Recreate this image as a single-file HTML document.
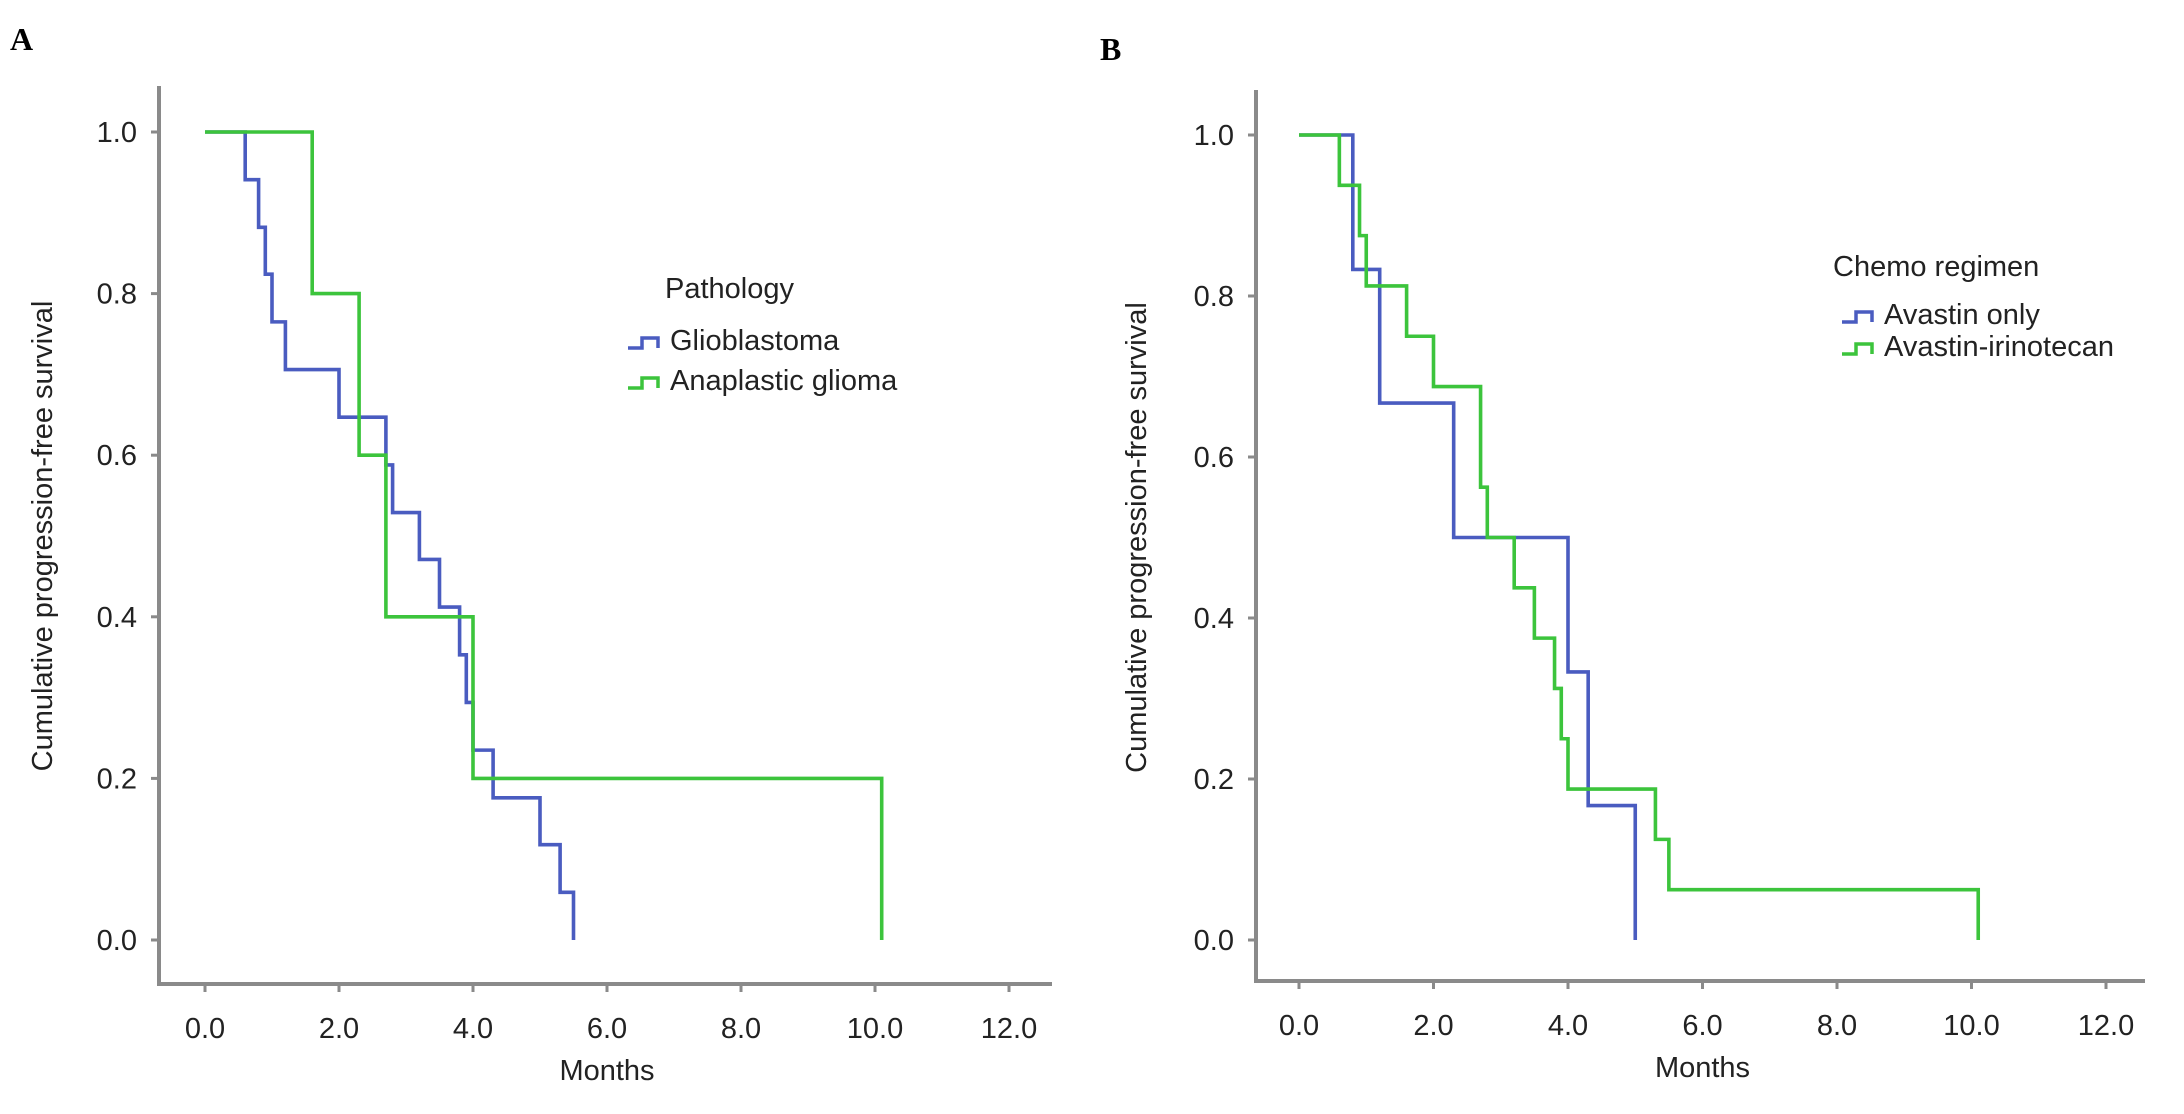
<!DOCTYPE html>
<html><head><meta charset="utf-8">
<style>
body{margin:0;background:#fff;}
svg{display:block;font-family:"Liberation Sans",Arial,sans-serif;}
</style></head>
<body>
<svg id="fig" width="2184" height="1114" viewBox="0 0 2184 1114">
<text x="10" y="50" font-family="Liberation Serif,serif" font-weight="bold" font-size="32">A</text>
<text x="1100" y="60" font-family="Liberation Serif,serif" font-weight="bold" font-size="32">B</text>
</svg>
<script>
// Panel A data
const aTicksX = [0, 2, 4, 6, 8, 10, 12];
const aTicksY = [0, 0.2, 0.4, 0.6, 0.8, 1.0];
const gbmTimes = [0.6, 0.8, 0.9, 1.0, 1.2, 2.0, 2.7, 2.8, 3.2, 3.5, 3.8, 3.9, 4.0, 4.3, 5.0, 5.3, 5.5];
const gbmSurv  = [0.941, 0.882, 0.824, 0.765, 0.706, 0.647, 0.588, 0.529, 0.471, 0.412, 0.353, 0.294, 0.235, 0.176, 0.118, 0.059, 0];
const agTimes = [1.6, 2.3, 2.7, 4.0, 10.1];
const agSurv  = [0.8, 0.6, 0.4, 0.2, 0];
// Panel B data
const avTimes = [0.8, 1.2, 2.3, 4.0, 4.3, 5.0];
const avSurv  = [0.833, 0.667, 0.5, 0.333, 0.167, 0];
const aiTimes = [0.6, 0.9, 1.0, 1.6, 2.0, 2.7, 2.8, 3.2, 3.5, 3.8, 3.9, 4.0, 5.3, 5.5, 10.1];
const aiSurv  = [0.9375, 0.875, 0.8125, 0.75, 0.6875, 0.5625, 0.5, 0.4375, 0.375, 0.3125, 0.25, 0.1875, 0.125, 0.0625, 0];

const BLUE = '#4a5cc0', GREEN = '#3cc43c', AX = '#8a8a8a';
const svg = document.getElementById('fig');
const NS = 'http://www.w3.org/2000/svg';
function mk(tag, attrs, parent) {
  const e = document.createElementNS(NS, tag);
  for (const k in attrs) e.setAttribute(k, attrs[k]);
  (parent || svg).appendChild(e);
  return e;
}

function panel(p) {
  const g = mk('g', {});
  
  
  const sx = v => p.x0 + (p.x12 - p.x0) * v / 12;
  const sy = v => p.y0 + (p.y1 - p.y0) * v;
  const ya = mk('line', {x1: p.ax, y1: p.axTop, x2: p.ax, y2: p.ay, stroke: AX, 'stroke-width': 4}, g);
  
  
  const xa = mk('line', {x1: p.ax - 2, y1: p.ay, x2: p.axRight, y2: p.ay, stroke: AX, 'stroke-width': 4}, g);
  
  
  aTicksX.forEach(t => {
    mk('line', {x1: sx(t), y1: p.ay, x2: sx(t), y2: p.ay + 8, stroke: AX, 'stroke-width': 3}, g);
    const tx = mk('text', {x: sx(t), y: p.ay + 54, 'font-size': 29, 'text-anchor': 'middle', fill: '#222'}, g);
    tx.textContent = t.toFixed(1);
    
    
  });
  aTicksY.forEach(t => {
    mk('line', {x1: p.ax - 8, y1: sy(t), x2: p.ax, y2: sy(t), stroke: AX, 'stroke-width': 3}, g);
    const ty = mk('text', {x: p.ax - 22, y: sy(t) + 10, 'font-size': 29, 'text-anchor': 'end', fill: '#222'}, g);
    ty.textContent = t.toFixed(1);
    
    
  });
  const xt = mk('text', {x: sx(6), y: p.ay + 96, 'font-size': 29, 'text-anchor': 'middle', fill: '#222'}, g);
  xt.textContent = 'Months';
  
  
  const yt = mk('text', {x: 0, y: 0, 'font-size': 29, 'text-anchor': 'middle', fill: '#222',
    transform: `translate(${p.ytx},${(sy(0) + sy(1)) / 2}) rotate(-90)`}, g);
  yt.textContent = 'Cumulative progression-free survival';
  
  
  p.series.forEach(s => {
    let d = `M${sx(0)},${sy(1)}`;
    s.t.forEach((t, i) => { d += ` H${sx(t)} V${sy(s.s[i])}`; });
    const path = mk('path', {d: d, fill: 'none', stroke: s.c, 'stroke-width': 3.6}, g);
    
    
  });
  const lt = mk('text', {x: p.lx, y: p.ly, 'font-size': 29, fill: '#222'}, g);
  lt.textContent = p.legTitle;
  
  
  p.series.forEach((s, i) => {
    const y = p.ly + p.lgap0 + i * p.lgap;
    const ic = mk('path', {d: `M${p.ix},${y} h14 v-10 h16 v10`, fill: 'none', stroke: s.c, 'stroke-width': 3.5}, g);
    
    
    const lx = mk('text', {x: p.ix + 42, y: y + 2, 'font-size': 29, fill: '#222'}, g);
    lx.textContent = s.label;
    
    
  });
}

panel({name: 'panel-a', x0: 205, x12: 1009, y1: 132, y0: 940, ax: 159, axTop: 86, ay: 984, axRight: 1052, ytx: 52,
  legTitle: 'Pathology', lx: 665, ly: 298, ix: 628, lgap0: 50, lgap: 40,
  series: [
    {name: 'glioblastoma-line', label: 'Glioblastoma', t: gbmTimes, s: gbmSurv, c: BLUE},
    {name: 'anaplastic-glioma-line', label: 'Anaplastic glioma', t: agTimes, s: agSurv, c: GREEN}
  ]});
panel({name: 'panel-b', x0: 1299, x12: 2106, y1: 135, y0: 940, ax: 1256, axTop: 90, ay: 981, axRight: 2145, ytx: 1146,
  legTitle: 'Chemo regimen', lx: 1833, ly: 276, ix: 1842, lgap0: 46, lgap: 32,
  series: [
    {name: 'avastin-only-line', label: 'Avastin only', t: avTimes, s: avSurv, c: BLUE},
    {name: 'avastin-irinotecan-line', label: 'Avastin-irinotecan', t: aiTimes, s: aiSurv, c: GREEN}
  ]});
</script>
</body></html>
